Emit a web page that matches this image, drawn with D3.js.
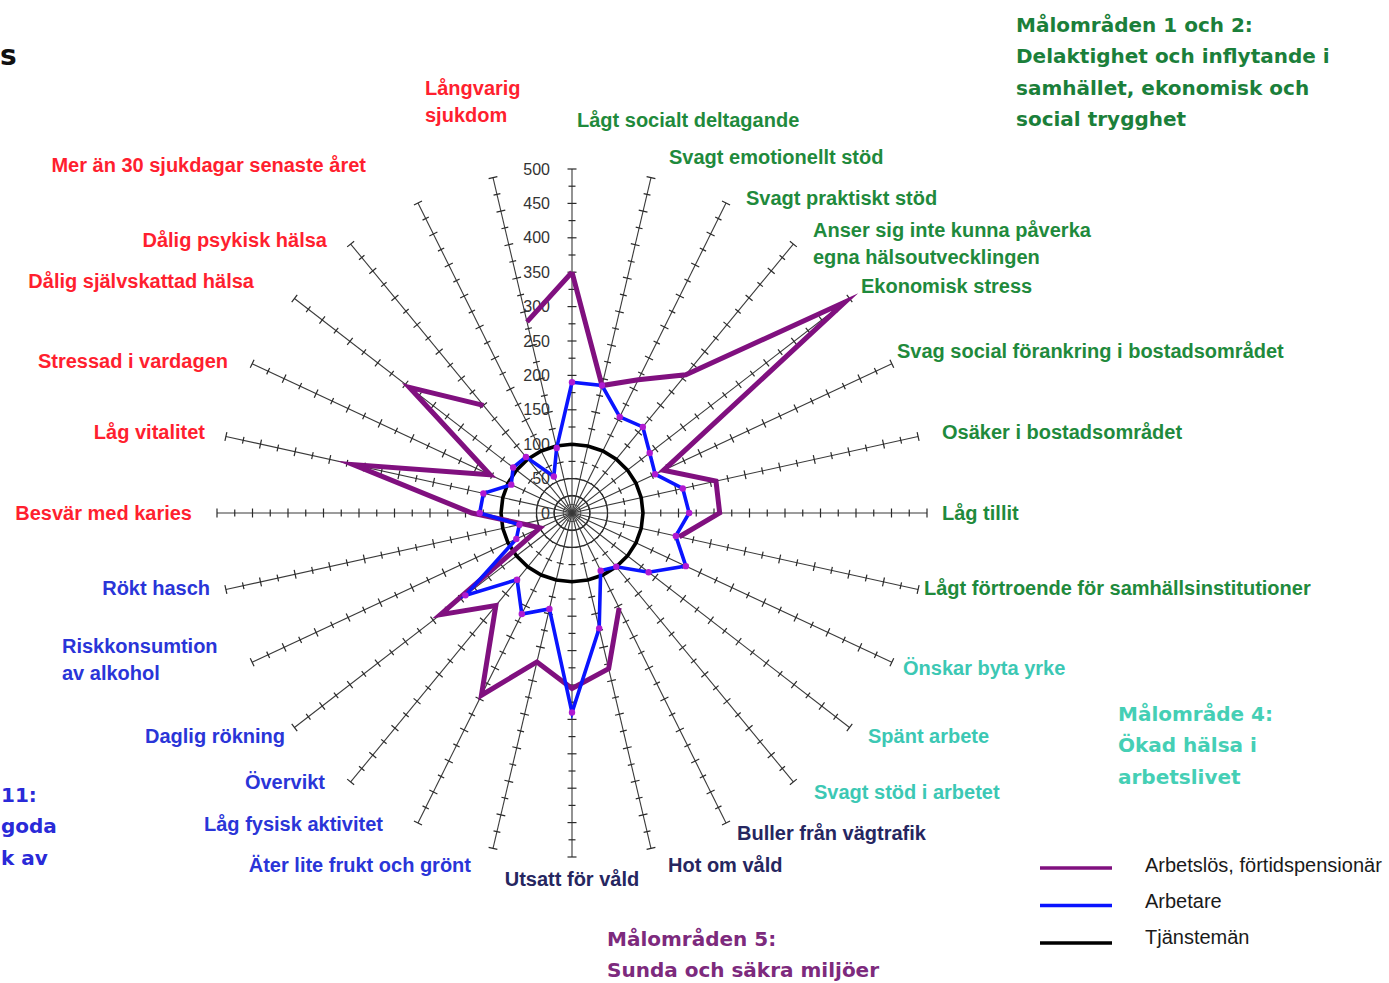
<!DOCTYPE html>
<html>
<head>
<meta charset="utf-8">
<script src="https://cdn.jsdelivr.net/npm/d3@7"></script>
<style>
  body { margin: 0; background: #ffffff; }
  svg { display: block; }
</style>
</head>
<body>
<svg id="chart" width="1389" height="983"></svg>
<script>
// Indicators, clockwise from the top spoke
const categories = [
  "Lågt socialt deltagande",
  "Svagt emotionellt stöd",
  "Svagt praktiskt stöd",
  "Anser sig inte kunna påverka\negna hälsoutvecklingen",
  "Ekonomisk stress",
  "Svag social förankring i bostadsområdet",
  "Osäker i bostadsområdet",
  "Låg tillit",
  "Lågt förtroende för samhällsinstitutioner",
  "Önskar byta yrke",
  "Spänt arbete",
  "Svagt stöd i arbetet",
  "Buller från vägtrafik",
  "Hot om våld",
  "Utsatt för våld",
  "Äter lite frukt och grönt",
  "Låg fysisk aktivitet",
  "Övervikt",
  "Daglig rökning",
  "Riskkonsumtion\nav alkohol",
  "Rökt hasch",
  "Besvär med karies",
  "Låg vitalitet",
  "Stressad i vardagen",
  "Dålig självskattad hälsa",
  "Dålig psykisk hälsa",
  "Mer än 30 sjukdagar senaste året",
  "Långvarig\nsjukdom"
];

// Target area each indicator belongs to
const categoryGroups = [
  "social", "social", "social", "social", "social", "social", "social", "social", "social",
  "work", "work", "work",
  "env", "env", "env",
  "life", "life", "life", "life", "life", "life",
  "health", "health", "health", "health", "health", "health", "health"
];

// Index values (Tjänstemän = 100); null where the indicator does not apply
const seriesNames = ["Arbetslös, förtidspensionär", "Arbetare", "Tjänstemän"];
const arbetslosValues = [350, 190, 215, 257, 492, 143, 208, 208, 155, null, null, null, 153, 232,
                         255, 222, 294, 172, 237, 50, 71, 141, 316, 128, 293, 200, null, 285];
const arbetareValues  = [190, 190, 155, 160, 140, 130, 160, 165, 150, 178, 138, 100, 93, 172,
                         290, 143, 163, 124, 192, 87, 76, 130, 128, 95, 106, 104, 59, 97];
const tjanstemanValues = [100, 100, 100, 100, 100, 100, 100, 100, 100, 100, 100, 100, 100, 100,
                          100, 100, 100, 100, 100, 100, 100, 100, 100, 100, 100, 100, 100, 100];

const tickValues = [0, 50, 100, 150, 200, 250, 300, 350, 400, 450, 500];
const tickLabels = ["0", "50", "100", "150", "200", "250", "300", "350", "400", "450", "500"];

// ---- layout & style ----
const cx = 572, cy = 513, rx = 355, ry = 344;
const groupColor = { health: "#ff1f2f", social: "#1f8a3c", work: "#3cc8b4", env: "#262660", life: "#2a35d8" };
const seriesColor = ["#80107f", "#0a14ff", "#000000"];
const seriesWidth = [5, 3.6, 3.6];

// label anchor points [x, y of first line centre, text-anchor]
const labelLayout = [
  [577, 120, "start"], [669, 157, "start"], [746, 198, "start"], [813, 230, "start"],
  [861, 286, "start"], [897, 351, "start"], [942, 432, "start"], [942, 513, "start"],
  [924, 588, "start"], [903, 668, "start"], [868, 736, "start"], [814, 792, "start"],
  [737, 833, "start"], [668, 865, "start"], [572, 879, "middle"], [471, 865, "end"],
  [383, 824, "end"], [325, 782, "end"], [285, 736, "end"], [62, 646, "start"],
  [210, 588, "end"], [192, 513, "end"], [205, 432, "end"], [228, 361, "end"],
  [254, 281, "end"], [327, 240, "end"], [366, 165, "end"], [425, 88, "start"]
];

const svg = d3.select("#chart");
const n = categories.length;
const angle = d3.scaleLinear().domain([0, n]).range([0, 2 * Math.PI]);
const radius = d3.scaleLinear().domain([0, 500]).range([0, 1]);
const px = (i, v) => cx + Math.sin(angle(i)) * radius(v) * rx;
const py = (i, v) => cy - Math.cos(angle(i)) * radius(v) * ry;

// ---- grid ----
const grid = svg.append("g");
[12.5, 25, 50].forEach(v => {
  grid.append("ellipse").attr("cx", cx).attr("cy", cy)
    .attr("rx", radius(v) * rx).attr("ry", radius(v) * ry)
    .attr("fill", "none").attr("stroke", "#555").attr("stroke-width", 1);
});

d3.range(n).forEach(i => {
  grid.append("line")
    .attr("x1", cx).attr("y1", cy)
    .attr("x2", px(i, 500)).attr("y2", py(i, 500))
    .attr("stroke", "#3a3a3a").attr("stroke-width", 1.1);
  // tick marks every 25 units, perpendicular to the spoke
  const dx = Math.sin(angle(i)) * rx, dy = -Math.cos(angle(i)) * ry;
  const len = Math.hypot(dx, dy);
  const nx = -dy / len, ny = dx / len;
  d3.range(25, 501, 25).forEach(v => {
    const h = v % 50 === 0 ? 4.5 : 3.5;
    const x = px(i, v), y = py(i, v);
    grid.append("line")
      .attr("x1", x - nx * h).attr("y1", y - ny * h)
      .attr("x2", x + nx * h).attr("y2", y + ny * h)
      .attr("stroke", "#2a2a2a").attr("stroke-width", 1.2);
  });
});

// scale labels along the top spoke
grid.selectAll("text.tick").data(tickValues).enter().append("text")
  .attr("x", cx - 22).attr("y", v => py(0, v)).attr("dy", "0.35em")
  .attr("text-anchor", "end")
  .attr("font-family", "'Liberation Sans', Arial, sans-serif")
  .attr("font-size", 16).attr("fill", "#333")
  .text((v, k) => tickLabels[k]);

// ---- series ----
const line = d3.line()
  .defined(d => d.v !== null)
  .x(d => px(d.i, d.v))
  .y(d => py(d.i, d.v));

const closed = vals => vals.map((v, i) => ({ i, v })).concat([{ i: n, v: vals[0] }]);
const allSeries = [arbetslosValues, arbetareValues, tjanstemanValues];
const drawOrder = [2, 0, 1];
const plot = svg.append("g");
drawOrder.forEach(s => {
  plot.append("path")
    .attr("d", line(closed(allSeries[s])))
    .attr("fill", "none")
    .attr("stroke", seriesColor[s])
    .attr("stroke-width", seriesWidth[s])
    .attr("stroke-linejoin", "miter")
    .attr("stroke-miterlimit", 10);
});
plot.selectAll("circle.mk").data(arbetareValues).enter().append("circle")
  .attr("cx", (v, i) => px(i, v)).attr("cy", (v, i) => py(i, v))
  .attr("r", 3.2).attr("fill", "#b01ad0");

// ---- indicator labels ----
const labels = svg.append("g")
  .attr("font-family", "'Liberation Sans', Arial, sans-serif")
  .attr("font-weight", "bold").attr("font-size", 20);
categories.forEach((c, i) => {
  const [x, y, anchor] = labelLayout[i];
  const t = labels.append("text")
    .attr("x", x).attr("y", y).attr("text-anchor", anchor)
    .attr("fill", groupColor[categoryGroups[i]]);
  c.split("\n").forEach((ln, k) => {
    t.append("tspan").attr("x", x).attr("y", y + k * 26.5).attr("dy", "0.35em").text(ln);
  });
});

// ---- target-area headings ----
const headings = [
  { lines: ["Målområden 1 och 2:", "Delaktighet och inflytande i", "samhället, ekonomisk och", "social trygghet"], x: 1016, y: 25, color: "#1b7f3a" },
  { lines: ["Målområde 4:", "Ökad hälsa i", "arbetslivet"], x: 1118, y: 714, color: "#45cfb5" },
  { lines: ["Målområden 5:", "Sunda och säkra miljöer"], x: 607, y: 939, color: "#7d2a7d" },
  { lines: ["11:", "goda", "k av"], x: 1, y: 795, color: "#2a2ad8" }
];
const hg = svg.append("g")
  .attr("font-family", "'DejaVu Sans', Verdana, sans-serif")
  .attr("font-weight", "bold").attr("font-size", 20);
headings.forEach(h => {
  const t = hg.append("text").attr("fill", h.color);
  h.lines.forEach((ln, k) => {
    t.append("tspan").attr("x", h.x).attr("y", h.y + k * 31.3).attr("dy", "0.35em").text(ln);
  });
});
svg.append("text").attr("x", 0).attr("y", 55).attr("dy", "0.35em")
  .attr("font-family", "'DejaVu Sans', Verdana, sans-serif")
  .attr("font-weight", "bold").attr("font-size", 28).attr("fill", "#111")
  .text("s");

// ---- legend ----
const legend = svg.append("g");
seriesNames.forEach((name, s) => {
  const y = 868 + s * 37.5;
  legend.append("line")
    .attr("x1", 1040).attr("x2", 1112).attr("y1", y).attr("y2", y)
    .attr("stroke", seriesColor[s]).attr("stroke-width", 3.5);
  legend.append("text")
    .attr("x", 1145).attr("y", 865 + s * 36).attr("dy", "0.35em")
    .attr("font-family", "'Liberation Sans', Arial, sans-serif")
    .attr("font-size", 20).attr("fill", "#1a1a1a")
    .text(name);
});
</script>
</body>
</html>
